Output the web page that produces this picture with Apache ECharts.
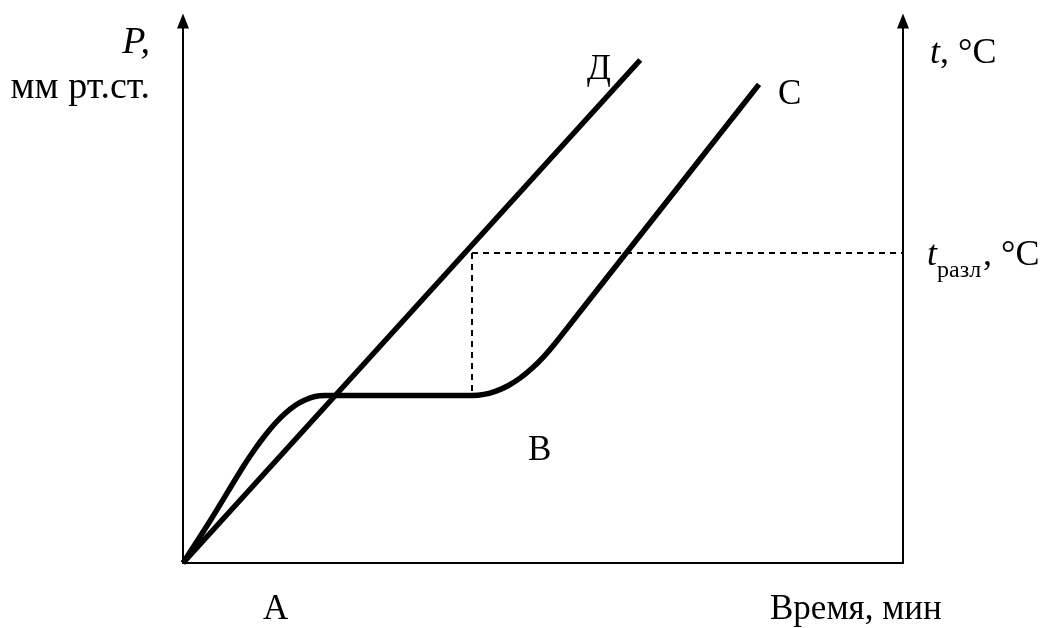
<!DOCTYPE html>
<html>
<head>
<meta charset="utf-8">
<script src="https://cdn.jsdelivr.net/npm/echarts@6/dist/echarts.min.js"></script>
<style>
  html, body { margin: 0; padding: 0; background: #fff; }
  #chart { width: 1041px; height: 628px; }
</style>
</head>
<body>
<div id="chart"></div>
<script>
// прямая Д (температура)
var lineD = [[0, 0], [63.5, 92.8]]
// кривая С (давление): подъём, площадка, рост
var curveC = [
  [0, 0], [3.75, 7.75], [8.33, 17.71], [10.0, 21.03], [11.39, 23.52],
  [12.78, 25.74], [14.17, 27.58], [15.56, 29.06], [16.94, 30.07],
  [18.33, 30.72], [19.72, 30.9], [38.47, 30.9], [40.14, 30.9],
  [41.81, 31.11], [43.47, 31.72], [45.14, 32.71], [46.81, 34.11],
  [48.47, 35.92], [50.14, 38.14], [51.81, 40.74], [55.14, 46.37],
  [61.53, 57.14], [69.03, 69.8], [74.58, 79.17], [80.0, 88.3]
]
// t разл
var tDecomp = 57.2
var tDecompX = 40.14
var plateauY = 30.9

var chart = echarts.init(document.getElementById('chart'))
var FONT = 'Liberation Serif'

function label(text, x, y, align, opts) {
  opts = opts || {}
  return {
    type: 'text',
    x: x,
    y: y,
    style: {
      text: text,
      fill: '#000',
      font: (opts.italic ? 'italic ' : '') + (opts.size || 35) + 'px "' + FONT + '"',
      align: align || 'left',
      verticalAlign: 'middle',
      rich: opts.rich
    }
  }
}

var axisCommon = {
  type: 'value',
  min: 0,
  max: 100,
  axisLabel: { show: false },
  axisTick: { show: false },
  splitLine: { show: false }
}

var yLine = {
  show: true, onZero: false,
  symbol: ['none', 'triangle'], symbolSize: [12, 15],
  lineStyle: { color: '#000', width: 2 }
}

var option = {
  animation: false,
  grid: { left: 183, right: 138, top: 21, bottom: 65 },
  xAxis: Object.assign({}, axisCommon, {
    axisLine: { show: true, onZero: false, lineStyle: { color: '#000', width: 2 } }
  }),
  yAxis: [
    Object.assign({}, axisCommon, { position: 'left', axisLine: yLine }),
    Object.assign({}, axisCommon, { position: 'right', axisLine: yLine })
  ],
  series: [
    {
      type: 'line',
      data: [[tDecompX, tDecomp], [100, tDecomp]],
      symbol: 'none',
      lineStyle: { color: '#000', width: 2, type: [6, 5] }
    },
    {
      type: 'line',
      data: [[tDecompX, tDecomp], [tDecompX, plateauY]],
      symbol: 'none',
      lineStyle: { color: '#000', width: 2, type: [6, 5] }
    },
    {
      type: 'line',
      data: lineD,
      symbol: 'none',
      lineStyle: { color: '#000', width: 5.5 }
    },
    {
      type: 'line',
      data: curveC,
      symbol: 'none',
      smooth: 0.3,
      lineStyle: { color: '#000', width: 5.5 }
    }
  ],
  graphic: [
    label('P,', 150, 43, 'right', { italic: true, size: 38 }),
    label('мм рт.ст.', 150, 88, 'right', { size: 38 }),
    label('{i|t}, °C', 930, 54, 'left', {
      size: 36,
      rich: { i: { font: 'italic 36px "' + FONT + '"' } }
    }),
    label('Д', 587, 70, 'left'),
    label('С', 778, 95, 'left'),
    label('t', 927, 256, 'left', { italic: true, size: 36 }),
    label('разл', 937, 271, 'left', { size: 24 }),
    label(', °C', 983, 256, 'left', { size: 36 }),
    label('В', 528, 451, 'left'),
    label('А', 263, 610, 'left'),
    label('Время, мин', 770, 610, 'left')
  ]
}
chart.setOption(option)
</script>
</body>
</html>
